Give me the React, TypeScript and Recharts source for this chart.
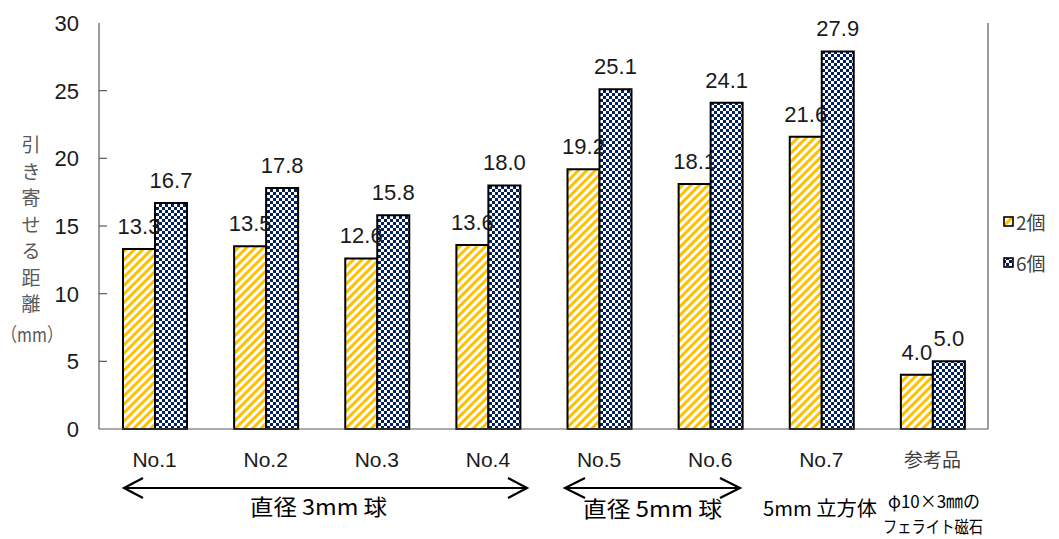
import React from 'react';
import { BarChart, Bar, XAxis, YAxis, LabelList, Legend } from 'recharts';

const categories = ['No.1', 'No.2', 'No.3', 'No.4', 'No.5', 'No.6', 'No.7', '参考品'];
const twoPieces = [13.3, 13.5, 12.6, 13.6, 19.2, 18.1, 21.6, 4.0];
const sixPieces = [16.7, 17.8, 15.8, 18.0, 25.1, 24.1, 27.9, 5.0];
const yTicks = [0, 5, 10, 15, 20, 25, 30];
const seriesNames = ['2個', '6個'];
const yLabelChars = ['引', 'き', '寄', 'せ', 'る', '距', '離'];

const data = categories.map((name, i) => ({ name, two: twoPieces[i], six: sixPieces[i] }));

const LATIN = '"Liberation Sans", Arial, sans-serif';
const JP = '"Noto Sans CJK JP", sans-serif';
const AXIS = '#595959';

const YTick = (props: any) => {
  const { x, y, payload } = props;
  return (
    <g>
      <text x={x} y={y} dy={8} textAnchor="end" fontFamily={LATIN} fontSize={22} fill="#1a1a1a">
        {payload.value}
      </text>
      {payload.value !== 0 && payload.value !== 30 ? (
        <line x1={x + 20} x2={x + 28} y1={y} y2={y} stroke={AXIS} strokeWidth={1.2} />
      ) : null}
    </g>
  );
};

const XTick = (props: any) => {
  const { x, y, payload } = props;
  const isJp = /[^\x00-\x7f]/.test(payload.value);
  return (
    <text
      x={x}
      y={y}
      dy={30}
      textAnchor="middle"
      fontFamily={isJp ? JP : LATIN}
      fontSize={isJp ? 19 : 21}
      fill={isJp ? '#404040' : '#1a1a1a'}
    >
      {payload.value}
    </text>
  );
};

const LegendContent = (props: any) => {
  const { payload } = props;
  return (
    <div style={{ display: 'flex', flexDirection: 'column', gap: 16 }}>
      {payload.map((p: any, i: number) => (
        <div key={i} style={{ display: 'flex', alignItems: 'center', fontFamily: JP, fontSize: 19, lineHeight: '25px', color: '#404040' }}>
          <svg width={11} height={11} style={{ marginRight: 2 }}>
            <rect x={1} y={1} width={9} height={9} fill={i === 0 ? 'url(#stripes)' : 'url(#checker)'} stroke="#000" strokeWidth={1.6} />
          </svg>
          <span>{p.value}</span>
        </div>
      ))}
    </div>
  );
};

const fmt = (v: any) => Number(v).toFixed(1);

export default function App() {
  return (
    <div style={{ position: 'absolute', left: 0, top: 0, width: 1059, height: 539, background: '#fff' }}>
      <BarChart
        width={1059}
        height={539}
        data={data}
        margin={{ top: 23, right: 10, bottom: 0, left: 0 }}
        barGap={0}
      >
        <defs>
          <pattern id="stripes" patternUnits="userSpaceOnUse" width={6} height={6} patternTransform="rotate(45)">
            <rect x={0} y={0} width={6} height={6} fill="#fff" />
            <rect x={0} y={0} width={3} height={6} fill="#FFC000" />
          </pattern>
          <pattern id="checker" patternUnits="userSpaceOnUse" width={6} height={6}>
            <rect x={0} y={0} width={6} height={6} fill="#002060" />
            <rect x={0} y={0} width={3} height={3} fill="#fff" />
            <rect x={3} y={3} width={3} height={3} fill="#fff" />
          </pattern>
        </defs>
        <XAxis
          dataKey="name"
          height={110}
          tick={<XTick />}
          tickLine={false}
          axisLine={{ stroke: AXIS, strokeWidth: 1.2 }}
          interval={0}
        />
        <XAxis xAxisId="top" orientation="top" dataKey="name" height={0} tick={false} tickLine={false} axisLine={{ stroke: AXIS, strokeWidth: 1.2 }} />
        <YAxis
          width={99}
          domain={[0, 30]}
          ticks={yTicks}
          tick={<YTick />}
          tickLine={false}
          tickSize={0}
          tickMargin={20}
          axisLine={{ stroke: AXIS, strokeWidth: 1.2 }}
          interval={0}
        />
        <YAxis yAxisId="right" orientation="right" width={1} domain={[0, 30]} tick={false} tickLine={false} axisLine={{ stroke: AXIS, strokeWidth: 1.2 }} />
        <Legend
          layout="vertical"
          verticalAlign="top"
          align="right"
          content={<LegendContent />}
          wrapperStyle={{ position: 'absolute', left: 1003, top: 209, width: 60 }}
        />
        <Bar dataKey="two" name={seriesNames[0]} fill="url(#stripes)" stroke="#000" strokeWidth={2} barSize={32} isAnimationActive={false}>
          <LabelList dataKey="two" position="top" offset={15} formatter={fmt} fontFamily={LATIN} fontSize={22} fill="#1a1a1a" />
        </Bar>
        <Bar dataKey="six" name={seriesNames[1]} fill="url(#checker)" stroke="#000" strokeWidth={2} barSize={32} isAnimationActive={false}>
          <LabelList dataKey="six" position="top" offset={15} formatter={fmt} fontFamily={LATIN} fontSize={22} fill="#1a1a1a" />
        </Bar>
      </BarChart>
      <svg width={1059} height={539} style={{ position: 'absolute', left: 0, top: 0, pointerEvents: 'none' }}>
        <g fontFamily={JP} fontSize={19} fill="#595959" textAnchor="middle">
          {yLabelChars.map((c, i) => (
            <text key={i} x={31} y={152 + i * 26.5}>{c}</text>
          ))}
          <text x={1} y={342} textAnchor="start" textLength={62} lengthAdjust="spacingAndGlyphs">（mm）</text>
        </g>
        <g stroke="#000" strokeWidth={2.2} fill="none">
          <line x1={124} y1={488} x2={527} y2={488} />
          <polyline points="143,478 124,488 143,498" />
          <polyline points="508,478 527,488 508,498" />
          <line x1={565} y1={488} x2={740} y2={488} />
          <polyline points="585,478 565,488 585,498" />
          <polyline points="720,478 740,488 720,498" />
        </g>
        <g fontFamily={JP} fill="#000" textAnchor="start">
          <text x={250} y={515} fontSize={22} textLength={137} lengthAdjust="spacingAndGlyphs">直径 3mm 球</text>
          <text x={583} y={517} fontSize={22} textLength={139} lengthAdjust="spacingAndGlyphs">直径 5mm 球</text>
          <text x={763} y={516} fontSize={20} textLength={114} lengthAdjust="spacingAndGlyphs">5mm 立方体</text>
          <text x={888} y={508} fontSize={18} textLength={92} lengthAdjust="spacingAndGlyphs">φ10×3㎜の</text>
          <text x={883} y={533} fontSize={17} textLength={100} lengthAdjust="spacingAndGlyphs">フェライト磁石</text>
        </g>
      </svg>
    </div>
  );
}
